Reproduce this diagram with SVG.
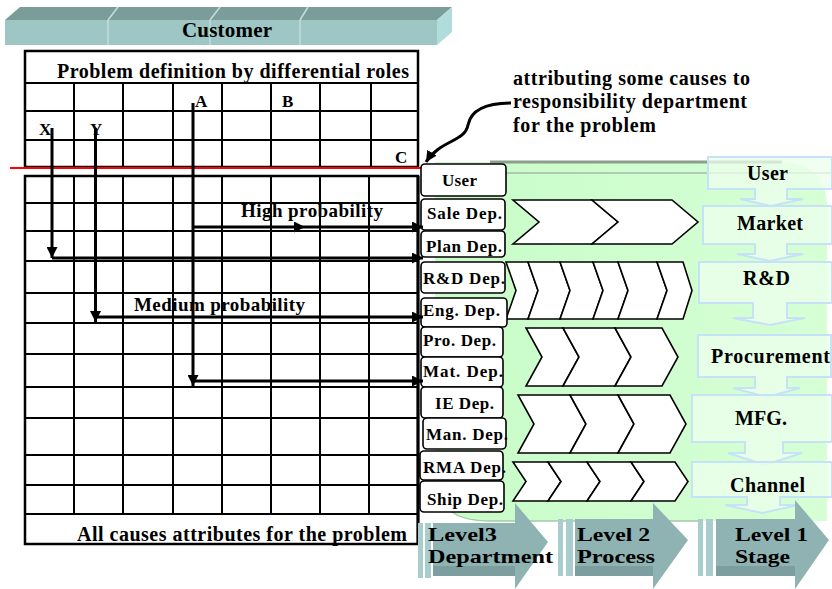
<svg xmlns="http://www.w3.org/2000/svg" width="832" height="589" viewBox="0 0 832 589">
  <style>
    text { font-family: "Liberation Serif", "Times New Roman", serif; font-weight: bold; fill: #000; }
    .grid { fill: none; stroke: #000; stroke-width: 2; }
    .gridOuter { fill: none; stroke: #000; stroke-width: 2.5; }
    .dept { fill: #fff; stroke: #000; stroke-width: 1.6; }
    .chev { fill: #fff; stroke: #000; stroke-width: 1.6; stroke-linejoin: miter; }
    .stage { fill: #ecffec; fill-opacity: 0.75; stroke: #c6e2f7; stroke-width: 2; }
    .flow { fill: none; stroke: #000; stroke-width: 3; }
    .lvlBody { fill: #8fb3b3; }
    .lvlDark { fill: #7c9e9e; }
    .lvlStripe { fill: #a9cdcd; }
    .dl { font-size: 17px; }
    .sl { font-size: 20px; }
    .gl { font-size: 17px; }
    .lv { font-size: 19px; }
  </style>
  <defs>
    <marker id="head" viewBox="0 0 10 10" refX="10" refY="5" markerWidth="11" markerHeight="11" markerUnits="userSpaceOnUse" orient="auto">
      <path d="M0,0 L10,5 L0,10 Z" fill="#000"/>
    </marker>
    <linearGradient id="greenFade" x1="0" y1="0" x2="1" y2="0">
      <stop offset="0" stop-color="#c8fcc8"/>
      <stop offset="1" stop-color="#d6ffd6"/>
    </linearGradient>
  </defs>

  <!-- Customer bar (3D slab) -->
  <g id="customer">
    <polygon points="20,7 452,7 437,20 5,20" fill="#7b9d9a"/>
    <polygon points="5,20 437,20 437,45 5,45" fill="#9dc6c4"/>
    <polygon points="437,20 452,7 452,32 437,45" fill="#b0dcdc"/>
    <g stroke="#c2dedd" stroke-width="1.5">
      <line x1="118" y1="7" x2="108" y2="20"/>
      <line x1="220" y1="7" x2="210" y2="20"/>
      <line x1="308" y1="7" x2="300" y2="20"/>
      <line x1="108" y1="20" x2="108" y2="45"/>
      <line x1="210" y1="20" x2="210" y2="45"/>
      <line x1="300" y1="20" x2="300" y2="45"/>
    </g>
    <text x="182" y="37" font-size="21" textLength="90">Customer</text>
  </g>

  <!-- Problem definition grid -->
  <g id="problem-grid">
    <rect class="gridOuter" x="25" y="51" width="393" height="116"/>
    <path class="grid" d="M25,83 H418 M25,111 H418 M25,140 H418
      M74,83 V167 M123,83 V167 M173,83 V167 M222,83 V167 M271,83 V167 M320,83 V167 M371,83 V167"/>
    <text x="57" y="78" font-size="20" textLength="352">Problem definition by differential roles</text>
    <text class="gl" x="195" y="107">A</text>
    <text class="gl" x="282" y="107">B</text>
    <text class="gl" x="39" y="135">X</text>
    <text class="gl" x="90" y="135">Y</text>
    <text class="gl" x="395" y="163">C</text>
  </g>

  <!-- Cause attribution grid -->
  <g id="cause-grid">
    <rect class="gridOuter" x="25" y="176" width="393" height="368"/>
    <path class="grid" d="M25,203 H418 M25,231 H418 M25,261 H418 M25,293 H418 M25,323 H418 M25,354 H418
      M25,387 H418 M25,418 H418 M25,455 H418 M25,485 H418 M25,514 H418
      M74,176 V514 M123,176 V514 M173,176 V514 M222,176 V514 M271,176 V514 M320,176 V514 M369,176 V514"/>
    <line x1="418" y1="176" x2="418" y2="544" stroke="#000" stroke-width="3"/>
    <text x="77" y="541" font-size="20" textLength="330">All causes attributes for the problem</text>
  </g>

  <!-- Separator line -->
  <line id="divider" x1="10" y1="168" x2="421" y2="168" stroke="#ff0000" stroke-width="2"/>

  <!-- Responsibility area background -->
  <g id="responsibility-area">
    <path d="M435,162 H780 Q827,162 827,209 V521 H485 Q435,521 435,471 Z" fill="url(#greenFade)"/>
    <line x1="490" y1="162" x2="782" y2="162" stroke="#8c9e8c" stroke-width="3"/>
    <line x1="506" y1="173" x2="832" y2="173" stroke="#a9b9a9" stroke-width="1.5"/>
    <path d="M452,512 Q465,521 490,521 H700" fill="none" stroke="#a6c8a6" stroke-width="1.5"/>
  </g>

  <!-- Stage column -->
  <g id="stage-user">
    <polygon class="stage" points="708,157 832,157 832,189 787,189 787,199 803,199 771,206 740,199 755,199 755,189 708,189"/>
    <text class="sl" x="747" y="180" textLength="41">User</text>
  </g>
  <g id="stage-market">
    <polygon class="stage" points="703,206 832,206 832,244 787,244 787,254 803,254 770,261 737,254 755,254 755,244 703,244"/>
    <text class="sl" x="737" y="230" textLength="66">Market</text>
  </g>
  <g id="stage-rd">
    <polygon class="stage" points="699,262 832,262 832,303 787,303 787,318 805,318 770,325 733,318 753,318 753,303 699,303"/>
    <text class="sl" x="743" y="285" textLength="47">R&amp;D</text>
  </g>
  <g id="stage-procurement">
    <polygon class="stage" points="698,335 831,335 831,377 787,377 787,388 800,388 767,397 733,388 755,388 755,377 698,377"/>
    <text class="sl" x="711" y="363" textLength="119">Procurement</text>
  </g>
  <g id="stage-mfg">
    <polygon class="stage" points="692,395 832,395 832,442 783,442 783,453 802,453 765,465 728,453 745,453 745,442 692,442"/>
    <text class="sl" x="735" y="425" textLength="52">MFG.</text>
  </g>
  <g id="stage-channel">
    <polygon class="stage" points="692,462 832,462 832,497 780,497 780,505 798,505 762,513 725,505 747,505 747,497 692,497"/>
    <text class="sl" x="730" y="492" textLength="75">Channel</text>
  </g>

  <!-- Process chevrons -->
  <g id="process-sales">
    <polygon class="chev" points="513,200 592,200 618,222 592,244 513,244 539,222"/>
    <polygon class="chev" points="592,200 672,200 698,222 672,244 592,244 618,222"/>
  </g>
  <g id="process-rd">
    <polygon class="chev" points="506,262 528,262 538,290.5 528,319 506,319 516,290.5"/>
    <polygon class="chev" points="528,262 560,262 570,290.5 560,319 528,319 538,290.5"/>
    <polygon class="chev" points="560,262 593,262 603,290.5 593,319 560,319 570,290.5"/>
    <polygon class="chev" points="593,262 618,262 628,290.5 618,319 593,319 603,290.5"/>
    <polygon class="chev" points="618,262 657,262 667,290.5 657,319 618,319 628,290.5"/>
    <polygon class="chev" points="657,262 683,262 692,290.5 683,319 657,319 667,290.5"/>
  </g>
  <g id="process-procurement">
    <polygon class="chev" points="526,328 563,328 579,357 563,386 526,386 542,357"/>
    <polygon class="chev" points="563,328 615,328 631,357 615,386 563,386 579,357"/>
    <polygon class="chev" points="615,328 662,328 678,357 662,386 615,386 631,357"/>
  </g>
  <g id="process-mfg">
    <polygon class="chev" points="518,395 570,395 586,424 570,453 518,453 534,424"/>
    <polygon class="chev" points="570,395 618,395 634,424 618,453 570,453 586,424"/>
    <polygon class="chev" points="618,395 670,395 686,424 670,453 618,453 634,424"/>
  </g>
  <g id="process-channel">
    <polygon class="chev" points="513,462 548,462 561,481.5 548,501 513,501 526,481.5"/>
    <polygon class="chev" points="548,462 587,462 600,481.5 587,501 548,501 561,481.5"/>
    <polygon class="chev" points="587,462 631,462 644,481.5 631,501 587,501 600,481.5"/>
    <polygon class="chev" points="631,462 675,462 688,481.5 675,501 631,501 644,481.5"/>
  </g>

  <!-- Departments -->
  <g id="dept-user"><rect class="dept" x="421" y="164" width="85" height="32" rx="4"/><text class="dl" x="442" y="186" textLength="35">User</text></g>
  <g id="dept-sale"><rect class="dept" x="421" y="199" width="84" height="31" rx="4"/><text class="dl" x="427" y="219" textLength="75">Sale Dep.</text></g>
  <g id="dept-plan"><rect class="dept" x="421" y="231" width="84" height="26" rx="4"/><text class="dl" x="426" y="252" textLength="76">Plan Dep.</text></g>
  <g id="dept-rd"><rect class="dept" x="421" y="262" width="84" height="31" rx="4"/><text class="dl" x="423" y="284" textLength="82">R&amp;D Dep.</text></g>
  <g id="dept-eng"><rect class="dept" x="421" y="298" width="86" height="29" rx="4"/><text class="dl" x="423" y="316" textLength="77">Eng. Dep.</text></g>
  <g id="dept-pro"><rect class="dept" x="421" y="327" width="82" height="30" rx="4"/><text class="dl" x="423" y="346" textLength="73">Pro. Dep.</text></g>
  <g id="dept-mat"><rect class="dept" x="421" y="357" width="82" height="30" rx="4"/><text class="dl" x="423" y="377" textLength="80">Mat. Dep.</text></g>
  <g id="dept-ie"><rect class="dept" x="421" y="387" width="82" height="31" rx="4"/><text class="dl" x="435" y="409" textLength="59">IE Dep.</text></g>
  <g id="dept-man"><rect class="dept" x="423" y="418" width="83" height="31" rx="4"/><text class="dl" x="426" y="440" textLength="82">Man. Dep.</text></g>
  <g id="dept-rma"><rect class="dept" x="420" y="451" width="83" height="29" rx="4"/><text class="dl" x="423" y="473" textLength="83">RMA Dep.</text></g>
  <g id="dept-ship"><rect class="dept" x="420" y="481" width="84" height="31" rx="4"/><text class="dl" x="427" y="505" textLength="76">Ship Dep.</text></g>

  <!-- Cause-to-department connectors -->
  <g id="connectors">
    <path class="flow" d="M52,128 V258" marker-end="url(#head)"/>
    <path class="flow" d="M52,258 H423" marker-end="url(#head)"/>
    <path class="flow" d="M95.5,128 V322" marker-end="url(#head)"/>
    <path class="flow" d="M95.5,317 H423" marker-end="url(#head)"/>
    <path class="flow" d="M193,103 V386" marker-end="url(#head)"/>
    <path class="flow" d="M193,381 H423" marker-end="url(#head)"/>
    <polyline class="flow" points="193,227 305,227 423,227" marker-mid="url(#head)" marker-end="url(#head)"/>
    <path class="flow" d="M511,103 C486,103 471,110 468,125 C465,142 440,140 426,162" marker-end="url(#head)"/>
  </g>

  <!-- Connector and note labels -->
  <g id="labels">
    <text x="241" y="217" font-size="19" textLength="142">High probability</text>
    <text x="134" y="311" font-size="19" textLength="171">Medium probability</text>
    <text x="513" y="85" font-size="20" textLength="237">attributing some causes to</text>
    <text x="513" y="108" font-size="20" textLength="234">responsibility department</text>
    <text x="513" y="132" font-size="20" textLength="143">for the problem</text>
  </g>

  <!-- Level arrows -->
  <g id="level3">
    <rect class="lvlStripe" x="418" y="523" width="5" height="55"/>
    <rect class="lvlStripe" x="425" y="523" width="6" height="55"/>
    <polygon class="lvlBody" points="433,523 515,523 515,503 548,542 515,589 515,576 433,576"/>
    <rect class="lvlDark" x="433" y="566" width="82" height="10"/>
    <text class="lv" x="428" y="541" textLength="69" lengthAdjust="spacingAndGlyphs">Level3</text>
    <text class="lv" x="428" y="563" textLength="125" lengthAdjust="spacingAndGlyphs">Department</text>
  </g>
  <g id="level2">
    <rect class="lvlStripe" x="558" y="519" width="5" height="57"/>
    <rect class="lvlStripe" x="566" y="519" width="7" height="57"/>
    <polygon class="lvlBody" points="575,519 653,519 653,503 688,540 653,589 653,576 575,576"/>
    <rect class="lvlDark" x="575" y="566" width="78" height="10"/>
    <text class="lv" x="577" y="541" textLength="73" lengthAdjust="spacingAndGlyphs">Level 2</text>
    <text class="lv" x="577" y="563" textLength="78" lengthAdjust="spacingAndGlyphs">Process</text>
  </g>
  <g id="level1">
    <rect class="lvlStripe" x="698" y="519" width="5" height="57"/>
    <rect class="lvlStripe" x="706" y="519" width="7" height="57"/>
    <polygon class="lvlBody" points="716,519 795,519 795,500 829,540 795,589 795,576 716,576"/>
    <rect class="lvlDark" x="716" y="566" width="79" height="10"/>
    <text class="lv" x="735" y="541" textLength="73" lengthAdjust="spacingAndGlyphs">Level 1</text>
    <text class="lv" x="735" y="563" textLength="55" lengthAdjust="spacingAndGlyphs">Stage</text>
  </g>
</svg>
